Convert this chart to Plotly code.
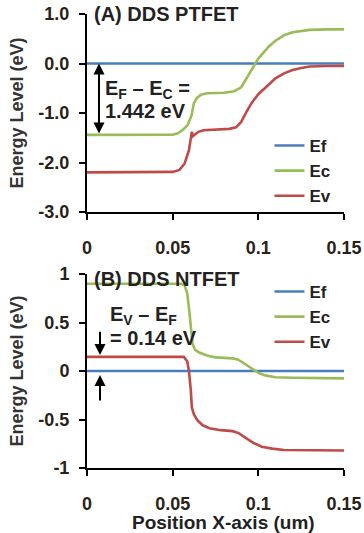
import plotly.graph_objects as go

# ---------------- data ----------------
ef_x = [0.0, 0.15]
ef_y = [0.0, 0.0]

p_ec_x = [0.0, 0.03, 0.05, 0.053, 0.056, 0.0588, 0.061, 0.0624, 0.064, 0.0665, 0.07, 0.08, 0.086, 0.09,
          0.093, 0.0965, 0.1, 0.103, 0.106, 0.11, 0.115, 0.12, 0.125, 0.13, 0.14, 0.15]
p_ec_y = [-1.442, -1.442, -1.44, -1.41, -1.34, -1.24, -1.05, -0.8, -0.7, -0.63, -0.6, -0.59, -0.56, -0.48,
          -0.3, -0.08, 0.1, 0.22, 0.34, 0.46, 0.57, 0.63, 0.66, 0.68, 0.69, 0.69]

p_ev_x = [0.0, 0.03, 0.05, 0.054, 0.057, 0.0595, 0.0605, 0.0612, 0.0618, 0.063, 0.065, 0.068, 0.075, 0.083,
          0.087, 0.09, 0.093, 0.096, 0.1, 0.106, 0.11, 0.115, 0.12, 0.125, 0.13, 0.14, 0.15]
p_ev_y = [-2.2, -2.2, -2.19, -2.15, -2.02, -1.75, -1.55, -1.38, -1.47, -1.43, -1.38, -1.35, -1.33, -1.32,
          -1.29, -1.18, -0.98, -0.8, -0.62, -0.42, -0.3, -0.2, -0.13, -0.09, -0.06, -0.05, -0.05]

n_ec_x = [0.0, 0.03, 0.055, 0.057, 0.0585, 0.0597, 0.0608, 0.0616, 0.063, 0.0655, 0.07, 0.075, 0.085, 0.088,
          0.0907, 0.094, 0.0965, 0.1, 0.104, 0.11, 0.12, 0.135, 0.15]
n_ec_y = [0.9, 0.9, 0.9, 0.88, 0.8, 0.62, 0.42, 0.28, 0.22, 0.19, 0.16, 0.14, 0.13, 0.12,
          0.09, 0.05, 0.02, -0.02, -0.045, -0.065, -0.07, -0.07, -0.076]

n_ev_x = [0.0, 0.03, 0.0565, 0.0585, 0.0595, 0.0606, 0.0612, 0.0625, 0.0645, 0.0675, 0.0715, 0.078, 0.085,
          0.0885, 0.0925, 0.097, 0.102, 0.108, 0.115, 0.13, 0.15]
n_ev_y = [0.146, 0.146, 0.146, 0.1, 0.0, -0.2, -0.38, -0.45, -0.51, -0.56, -0.59, -0.61, -0.62,
          -0.64, -0.69, -0.74, -0.78, -0.8, -0.815, -0.82, -0.82]

series_names = ["Ef", "Ec", "Ev"]
x_ticks = [0, 0.05, 0.1, 0.15]
x_tick_text = ["0", "0.05", "0.1", "0.15"]
top_y_ticks = [1, 0, -1, -2, -3]
top_y_text = ["1.0", "0.0", "-1.0", "-2.0", "-3.0"]
bot_y_ticks = [1, 0.5, 0, -0.5, -1]
bot_y_text = ["1", "0.5", "0", "-0.5", "-1"]

# ---------------- style ----------------
BLUE = "#4A7EBB"
GREEN = "#9BBB59"
RED = "#BE4B48"
FONT = "Liberation Sans"
TICKC = "#2a2218"
LW = 2.6

fig = go.Figure()
top = [(ef_x, ef_y, BLUE), (p_ec_x, p_ec_y, GREEN), (p_ev_x, p_ev_y, RED)]
bot = [(ef_x, ef_y, BLUE), (n_ec_x, n_ec_y, GREEN), (n_ev_x, n_ev_y, RED)]
for name, (xs, ys, c) in zip(series_names, top):
    fig.add_trace(go.Scatter(x=xs, y=ys, mode="lines", name=name, line=dict(color=c, width=LW),
                             xaxis="x", yaxis="y", legend="legend"))
for name, (xs, ys, c) in zip(series_names, bot):
    fig.add_trace(go.Scatter(x=xs, y=ys, mode="lines", name=name, line=dict(color=c, width=LW),
                             xaxis="x2", yaxis="y2", legend="legend2"))

H = 533
T, B = 14, 65
plot_h = H - T - B
top_dom = [(468 - 212) / plot_h, 1.0]
bot_dom = [0.0, (468 - 274) / plot_h]

ax_common = dict(showline=True, linecolor="black", linewidth=2, ticks="outside", ticklen=6,
                 tickwidth=2, tickcolor="black", showgrid=False, zeroline=False, automargin=False,
                 tickfont=dict(family=FONT, size=18, color=TICKC, weight="bold"))

yt_font = dict(family=FONT, size=18, color="#333333", weight="bold")
lg_font = dict(family=FONT, size=17, color="#222222", weight="bold")

fig.update_layout(
    width=364, height=H,
    margin=dict(l=87, r=20, t=T, b=B),
    paper_bgcolor="white", plot_bgcolor="white",
    font=dict(family=FONT),
    xaxis=dict(domain=[0, 1], range=[0, 0.15], anchor="y", tickvals=x_ticks, ticktext=x_tick_text,
               ticklabelstandoff=12, **ax_common),
    yaxis=dict(domain=top_dom, range=[-3, 1.0], anchor="x", tickvals=top_y_ticks, ticktext=top_y_text,
               ticklabelstandoff=6,
               title=dict(text="Energy Level (eV)", font=yt_font, standoff=10),
               **ax_common),
    xaxis2=dict(domain=[0, 1], range=[0, 0.15], anchor="y2", tickvals=x_ticks, ticktext=x_tick_text,
                ticklabelstandoff=12, **ax_common),
    yaxis2=dict(domain=bot_dom, range=[-1, 1.0], anchor="x2", tickvals=bot_y_ticks, ticktext=bot_y_text,
                ticklabelstandoff=6,
                title=dict(text="Energy Level (eV)", font=yt_font, standoff=10),
                **ax_common),
    legend=dict(x=0.71, y=(468 - 128) / plot_h, xanchor="left", yanchor="top", bgcolor="rgba(0,0,0,0)",
                font=lg_font, tracegroupgap=0, itemwidth=30),
    legend2=dict(x=0.71, y=(468 - 274) / plot_h, xanchor="left", yanchor="top", bgcolor="rgba(0,0,0,0)",
                 font=lg_font, tracegroupgap=0, itemwidth=30),
    showlegend=True,
)

tfont = dict(family=FONT, size=20, color="#222222", weight="bold")
ann = [
    dict(text="(A) DDS PTFET", xref="paper", yref="paper", x=0.02, y=1.0, xanchor="left", yanchor="middle",
         showarrow=False, font=tfont),
    dict(text="(B) DDS NTFET", xref="paper", yref="paper", x=0.02, y=bot_dom[1] - 0.012, xanchor="left",
         yanchor="middle", showarrow=False, font=tfont),
    dict(text="Position X-axis (um)", xref="paper", yref="paper", x=0.533, y=(468 - 522) / plot_h,
         xanchor="center", yanchor="middle", showarrow=False,
         font=dict(family=FONT, size=19, color="#222222", weight="bold")),
    # top double arrow
    dict(text="", x=0.007, y=0.0, ax=0.007, ay=-1.442, xref="x", yref="y", axref="x", ayref="y",
         showarrow=True, arrowhead=2, arrowside="end+start", arrowsize=1.1, arrowwidth=2, arrowcolor="black"),
    dict(text="E<sub>F</sub> \u2013 E<sub>C</sub> =", x=0.0094, y=-0.52, xref="x", yref="y", xanchor="left",
         yanchor="middle", showarrow=False, font=tfont),
    dict(text="1.442 eV", x=0.0094, y=-0.96, xref="x", yref="y", xanchor="left", yanchor="middle",
         showarrow=False, font=tfont),
    # bottom arrows
    dict(text="", x=0.0076, y=0.165, ax=0.0076, ay=0.42, xref="x2", yref="y2", axref="x2", ayref="y2",
         showarrow=True, arrowhead=2, arrowsize=1.1, arrowwidth=2, arrowcolor="black"),
    dict(text="", x=0.0076, y=-0.04, ax=0.0076, ay=-0.32, xref="x2", yref="y2", axref="x2", ayref="y2",
         showarrow=True, arrowhead=2, arrowsize=1.1, arrowwidth=2, arrowcolor="black"),
    dict(text="E<sub>V</sub> \u2013 E<sub>F</sub>", x=0.0125, y=0.57, xref="x2", yref="y2", xanchor="left",
         yanchor="middle", showarrow=False, font=tfont),
    dict(text="= 0.14 eV", x=0.0125, y=0.34, xref="x2", yref="y2", xanchor="left", yanchor="middle",
         showarrow=False, font=tfont),
]
fig.update_layout(annotations=ann)

fig.write_html("out.html", config={"displayModeBar": False},
               post_script="document.body.style.margin='0';document.body.style.overflow='hidden';")
